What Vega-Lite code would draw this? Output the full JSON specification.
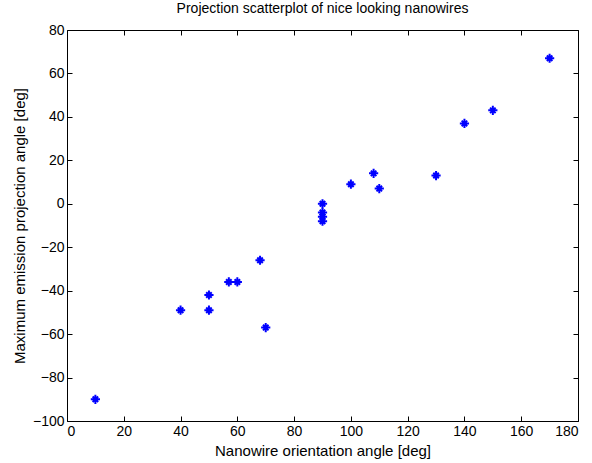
{
  "$schema": "https://vega.github.io/schema/vega-lite/v6.json",
  "autosize": "none",
  "width": 511,
  "height": 391,
  "padding": {"left": 67, "top": 30, "right": 14, "bottom": 42},
  "background": "white",
  "title": {"text": "Projection scatterplot of nice looking nanowires", "font": "Liberation Sans", "fontSize": 14, "fontWeight": "normal", "color": "#000", "offset": 7},
  "config": {
    "view": {"stroke": "#000", "strokeWidth": 1},
    "axis": {"labelFont": "Liberation Sans", "titleFont": "Liberation Sans", "labelFontSize": 14, "titleFontSize": 15, "titleFontWeight": "normal", "labelColor": "#000", "titleColor": "#000", "grid": false, "domain": false, "tickColor": "#000", "tickSize": -5}
  },
  "data": {"values": [
    {"orientation": 10, "emission": -90},
    {"orientation": 40, "emission": -49},
    {"orientation": 50, "emission": -42},
    {"orientation": 50, "emission": -49},
    {"orientation": 57, "emission": -36},
    {"orientation": 60, "emission": -36},
    {"orientation": 68, "emission": -26},
    {"orientation": 70, "emission": -57},
    {"orientation": 90, "emission": 0},
    {"orientation": 90, "emission": -4},
    {"orientation": 90, "emission": -6},
    {"orientation": 90, "emission": -8},
    {"orientation": 100, "emission": 9},
    {"orientation": 108, "emission": 14},
    {"orientation": 110, "emission": 7},
    {"orientation": 130, "emission": 13},
    {"orientation": 140, "emission": 37},
    {"orientation": 150, "emission": 43},
    {"orientation": 170, "emission": 67}
  ]},
  "layer": [
    {
      "mark": {"type": "point", "shape": "M -1 0 L 1 0 M 0 -1 L 0 1 M -0.6 -0.6 L 0.6 0.6 M -0.6 0.6 L 0.6 -0.6", "filled": false, "stroke": "#0000ff", "strokeWidth": 2, "size": 85, "opacity": 1},
      "encoding": {
        "x": {"field": "orientation", "type": "quantitative", "scale": {"domain": [0, 180], "nice": false, "zero": false}, "axis": {"orient": "bottom", "values": [0,20,40,60,80,100,120,140,160,180], "title": "Nanowire orientation angle [deg]", "labelPadding": 8, "titlePadding": 5}},
        "y": {"field": "emission", "type": "quantitative", "scale": {"domain": [-100, 80], "nice": false, "zero": false}, "axis": {"orient": "left", "values": [-100,-80,-60,-40,-20,0,20,40,60,80], "title": "Maximum emission projection angle [deg]", "labelPadding": 8, "titlePadding": 5}}
      }
    },
    {
      "mark": {"type": "point", "opacity": 0},
      "encoding": {
        "x": {"field": "orientation", "type": "quantitative", "scale": {"domain": [0, 180], "nice": false, "zero": false}, "axis": {"orient": "top", "values": [0,20,40,60,80,100,120,140,160,180], "labels": false, "title": null}},
        "y": {"field": "emission", "type": "quantitative", "scale": {"domain": [-100, 80], "nice": false, "zero": false}, "axis": {"orient": "right", "values": [-100,-80,-60,-40,-20,0,20,40,60,80], "labels": false, "title": null}}
      }
    }
  ],
  "resolve": {"axis": {"x": "independent", "y": "independent"}}
}
